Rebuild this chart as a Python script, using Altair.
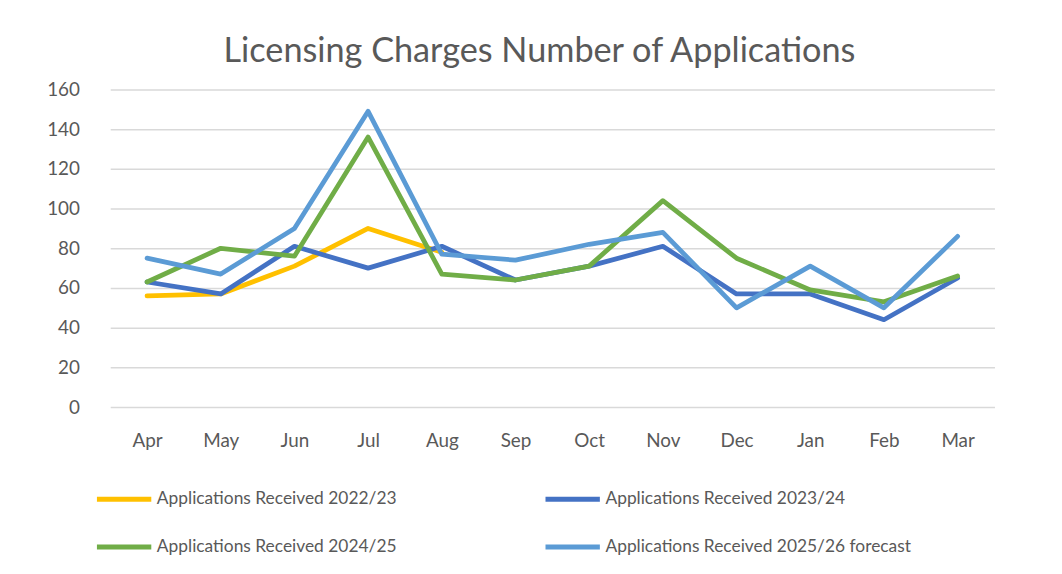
import altair as alt
import pandas as pd

months = ["Apr", "May", "Jun", "Jul", "Aug", "Sep", "Oct", "Nov", "Dec", "Jan", "Feb", "Mar"]
series_names = [
    "Applications Received 2022/23",
    "Applications Received 2023/24",
    "Applications Received 2024/25",
    "Applications Received 2025/26 forecast",
]
vals_2223 = [56, 57, 71, 90, 78, None, None, None, None, None, None, None]
vals_2324 = [63, 57, 81, 70, 81, 64, 71, 81, 57, 57, 44, 65]
vals_2425 = [63, 80, 76, 136, 67, 64, 71, 104, 75, 59, 53, 66]
vals_2526 = [75, 67, 90, 149, 77, 74, 82, 88, 50, 71, 50, 86]
colors = ["#FFC000", "#4472C4", "#70AD47", "#5B9BD5"]

rows = []
for name, vals in zip(series_names, [vals_2223, vals_2324, vals_2425, vals_2526]):
    for m, v in zip(months, vals):
        if v is not None:
            rows.append({"Month": m, "Series": name, "Value": v})
df = pd.DataFrame(rows)

FONT = "Lato"
TXT = "#595959"

chart = alt.Chart(df).mark_line(strokeWidth=4.8, strokeCap="round", strokeJoin="round").encode(
    x=alt.X("Month:N", sort=months, title=None,
            axis=alt.Axis(labelAngle=0, domain=False, ticks=False, tickSize=0, grid=False,
                          labelPadding=25, labelFontSize=19, labelColor=TXT, labelFont=FONT)),
    y=alt.Y("Value:Q", title=None,
            scale=alt.Scale(domain=[0, 160], nice=False),
            axis=alt.Axis(values=list(range(0, 161, 20)), domain=False, ticks=False, tickSize=0,
                          labelPadding=31, labelFontSize=19, labelColor=TXT, labelFont=FONT,
                          gridColor="#d9d9d9", gridWidth=1.5)),
    color=alt.Color("Series:N", sort=series_names,
                    scale=alt.Scale(domain=series_names, range=colors),
                    legend=alt.Legend(title=None, orient="none", legendX=-16, legendY=403,
                                      columns=2, direction="horizontal",
                                      symbolType="stroke", symbolStrokeWidth=5, symbolSize=3000,
                                      clipHeight=20,
                                      labelFontSize=17.5, labelColor=TXT, labelFont=FONT,
                                      labelOffset=3, rowPadding=28, columnPadding=147,
                                      labelLimit=400)),
).properties(
    width=891,
    height=320,
    title=alt.TitleParams("Licensing Charges Number of Applications", font=FONT, fontSize=34.5,
                          fontWeight="normal", color=TXT, anchor="middle", offset=11, dx=-13),
    padding={"left": 103, "top": 80, "right": 60, "bottom": 150},
    autosize=alt.AutoSizeParams(type="none"),
).configure_view(stroke=None)

chart.save("out.html", embed_options={"renderer": "svg", "actions": False})
